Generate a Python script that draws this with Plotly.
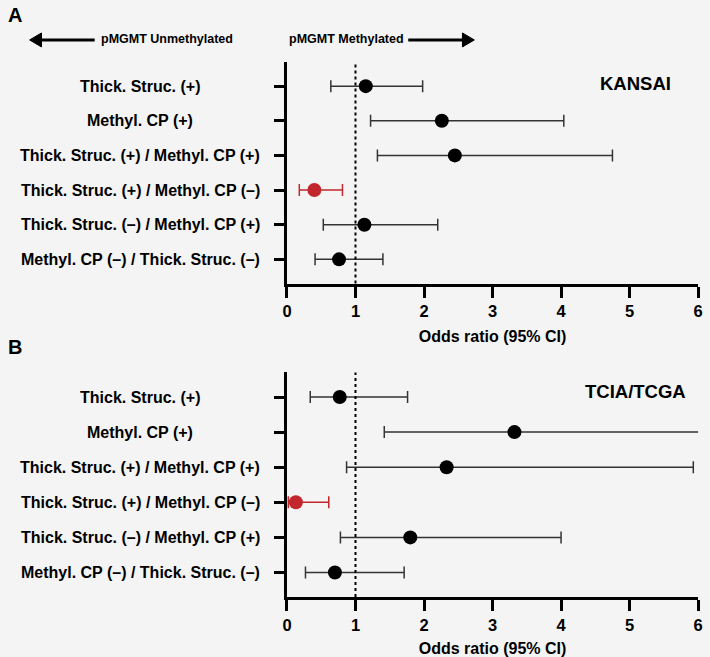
import plotly.graph_objects as go

categories = [
    "Thick. Struc. (+)",
    "Methyl. CP (+)",
    "Thick. Struc. (+) / Methyl. CP (+)",
    "Thick. Struc. (+) / Methyl. CP (\u2013)",
    "Thick. Struc. (\u2013) / Methyl. CP (+)",
    "Methyl. CP (\u2013) / Thick. Struc. (\u2013)",
]
kansai_or = [1.15, 2.26, 2.45, 0.40, 1.13, 0.76]
kansai_lo = [0.64, 1.22, 1.32, 0.18, 0.53, 0.41]
kansai_hi = [1.98, 4.04, 4.75, 0.81, 2.20, 1.40]

tcga_or = [0.77, 3.32, 2.33, 0.13, 1.80, 0.70]
tcga_lo = [0.34, 1.42, 0.87, 0.02, 0.78, 0.27]
tcga_hi = [1.76, 6.80, 5.93, 0.61, 4.00, 1.71]

highlight = [False, False, False, True, False, False]
x_ticks = [0, 1, 2, 3, 4, 5, 6]

W, H = 710, 657
BG = "#f4f4f4"
RED = "#c1272d"
GRAY = "#333333"
FONT = "Liberation Sans, Arial, sans-serif"

def px(x):
    return x / W

def py(y):
    return 1 - y / H

fig = go.Figure()

panels = [
    (kansai_or, kansai_lo, kansai_hi, "x", "y"),
    (tcga_or, tcga_lo, tcga_hi, "x2", "y2"),
]
idx = list(range(len(categories)))
for orv, lo, hi, xa, ya in panels:
    for hl in (False, True):
        sel = [i for i in idx if highlight[i] == hl]
        col = RED if hl else "black"
        ecol = RED if hl else GRAY
        fig.add_trace(go.Scatter(
            x=[orv[i] for i in sel],
            y=sel,
            mode="markers",
            marker=dict(size=14, color=col),
            error_x=dict(
                type="data", symmetric=False,
                array=[hi[i] - orv[i] for i in sel],
                arrayminus=[orv[i] - lo[i] for i in sel],
                color=ecol, thickness=1.5, width=6,
            ),
            xaxis=xa, yaxis=ya, showlegend=False, hoverinfo="skip",
        ))

xcommon = dict(
    range=[0, 6], tickvals=x_ticks, showline=True, linecolor="black", linewidth=3,
    ticks="outside", ticklen=11, tickwidth=3, tickcolor="black", showgrid=False,
    zeroline=False, tickfont=dict(family=FONT, size=16.5, color="black", weight="bold"),
    title=dict(text="<b>Odds ratio (95% CI)</b>", font=dict(family=FONT, size=16, color="black"), standoff=12),
)
ycommon = dict(
    range=[5.7, -0.7], tickvals=idx, showticklabels=False, showline=True,
    linecolor="black", linewidth=3, ticks="outside", ticklen=10, tickwidth=3,
    tickcolor="black", showgrid=False, zeroline=False,
)

fig.update_layout(
    width=W, height=H, paper_bgcolor=BG, plot_bgcolor=BG,
    margin=dict(l=0, r=0, t=0, b=0),
    xaxis=dict(domain=[px(286), px(703)], anchor="y", **xcommon),
    yaxis=dict(domain=[py(284), py(62)], anchor="x", **ycommon),
    xaxis2=dict(domain=[px(286), px(703)], anchor="y2", **xcommon),
    yaxis2=dict(domain=[py(598), py(373)], anchor="x2", **ycommon),
    font=dict(family=FONT, color="black"),
)

# dotted reference line at OR = 1
for xr, yr in (("x", "y domain"), ("x2", "y2 domain")):
    fig.add_shape(type="line", xref=xr, yref=yr, x0=1, x1=1, y0=0, y1=1,
                  line=dict(color="black", width=2, dash="dot"))

annotations = []
for ya in ("y", "y2"):
    for i, c in enumerate(categories):
        annotations.append(dict(
            text="<b>%s</b>" % c, x=px(137), y=i, xref="paper", yref=ya,
            xanchor="center", yanchor="middle", showarrow=False,
            font=dict(family=FONT, size=16, color="black"),
        ))

annotations += [
    dict(text="<b>KANSAI</b>", x=px(640), y=py(84), xref="paper", yref="paper",
         xanchor="center", yanchor="middle", showarrow=False,
         font=dict(family=FONT, size=18.5, color="black")),
    dict(text="<b>TCIA/TCGA</b>", x=px(639), y=py(392), xref="paper", yref="paper",
         xanchor="center", yanchor="middle", showarrow=False,
         font=dict(family=FONT, size=18.5, color="black")),
    dict(text="<b>A</b>", x=px(1), y=py(15), xref="paper", yref="paper",
         xanchor="left", yanchor="middle", showarrow=False,
         font=dict(family=FONT, size=20, color="black")),
    dict(text="<b>B</b>", x=px(1), y=py(348), xref="paper", yref="paper",
         xanchor="left", yanchor="middle", showarrow=False,
         font=dict(family=FONT, size=20, color="black")),
    dict(text="<b>pMGMT Unmethylated</b>", x=px(164), y=py(39), xref="paper", yref="paper",
         xanchor="center", yanchor="middle", showarrow=False,
         font=dict(family=FONT, size=12.5, color="black")),
    dict(text="<b>pMGMT Methylated</b>", x=px(346), y=py(39), xref="paper", yref="paper",
         xanchor="center", yanchor="middle", showarrow=False,
         font=dict(family=FONT, size=12.5, color="black")),
]
fig.update_layout(annotations=annotations)

# header arrows
fig.add_shape(type="line", xref="paper", yref="paper", x0=px(91), x1=px(34), y0=py(40), y1=py(40),
              line=dict(color="black", width=3))
fig.add_shape(type="path", xref="paper", yref="paper",
              path="M %f %f L %f %f L %f %f Z" % (px(25), py(40), px(37), py(33), px(37), py(47)),
              fillcolor="black", line=dict(color="black", width=1))
fig.add_shape(type="line", xref="paper", yref="paper", x0=px(409), x1=px(467), y0=py(40), y1=py(40),
              line=dict(color="black", width=3))
fig.add_shape(type="path", xref="paper", yref="paper",
              path="M %f %f L %f %f L %f %f Z" % (px(476), py(40), px(464), py(33), px(464), py(47)),
              fillcolor="black", line=dict(color="black", width=1))

fig.write_html("out.html", config={"displayModeBar": False},
               post_script="document.body.style.margin='0';document.body.style.background='%s';" % BG)
